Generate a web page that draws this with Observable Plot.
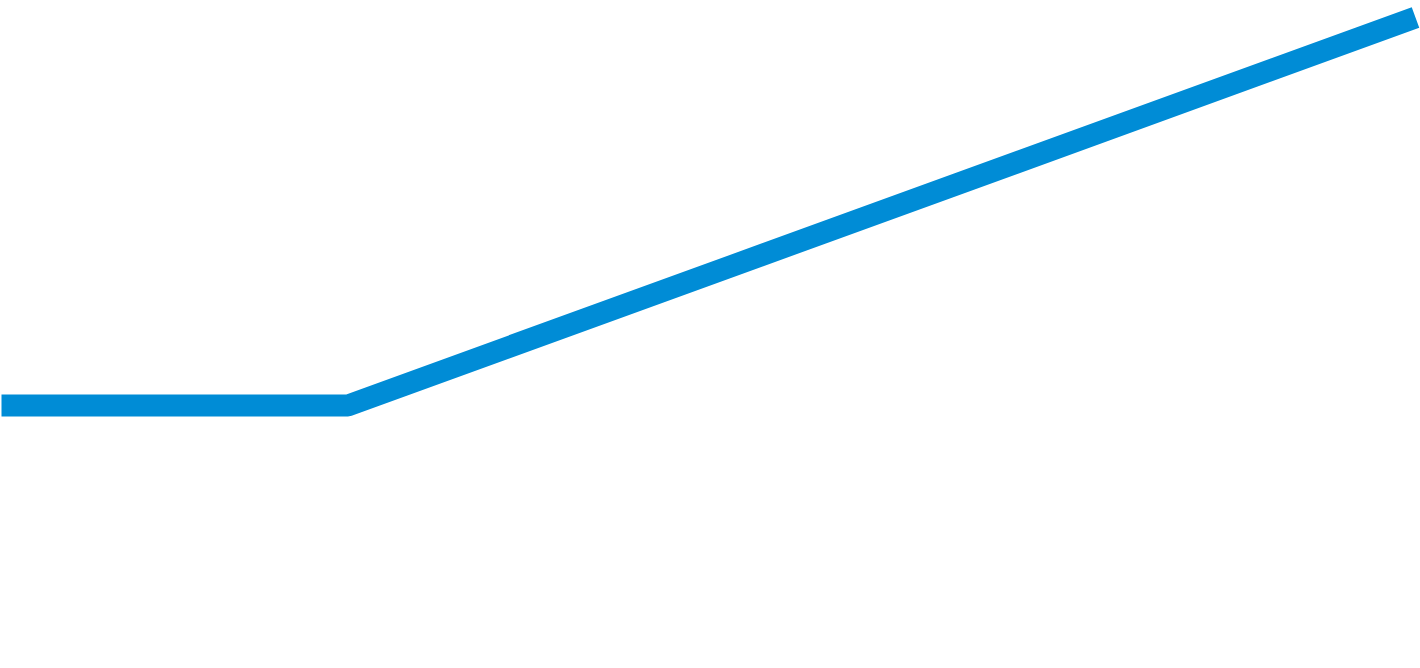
<!DOCTYPE html>
<html>
<head>
<meta charset="utf-8">
<script src="https://cdn.jsdelivr.net/npm/d3@7"></script>
<script src="https://cdn.jsdelivr.net/npm/@observablehq/plot@0.6"></script>
<style>
  html, body { margin: 0; padding: 0; background: #ffffff; overflow: hidden; }
  #chart svg { display: block; }
</style>
</head>
<body>
<div id="chart"></div>
<script>
const xValues = [0, 24.5, 100];
const yValues = [0, 0, 100];
const data = xValues.map((x, i) => ({x, y: yValues[i]}));

const chart = Plot.plot({
  width: 1420,
  height: 668,
  marginLeft: 1,
  marginRight: 5,
  marginTop: 17,
  marginBottom: 263,
  x: {domain: [0, 100], axis: null},
  y: {domain: [0, 100], axis: null},
  marks: [
    Plot.line(data, {
      x: "x",
      y: "y",
      stroke: "#008cd6",
      strokeWidth: 22,
      strokeLinecap: "butt",
      strokeLinejoin: "miter"
    })
  ]
});
document.getElementById("chart").appendChild(chart);
</script>
</body>
</html>
